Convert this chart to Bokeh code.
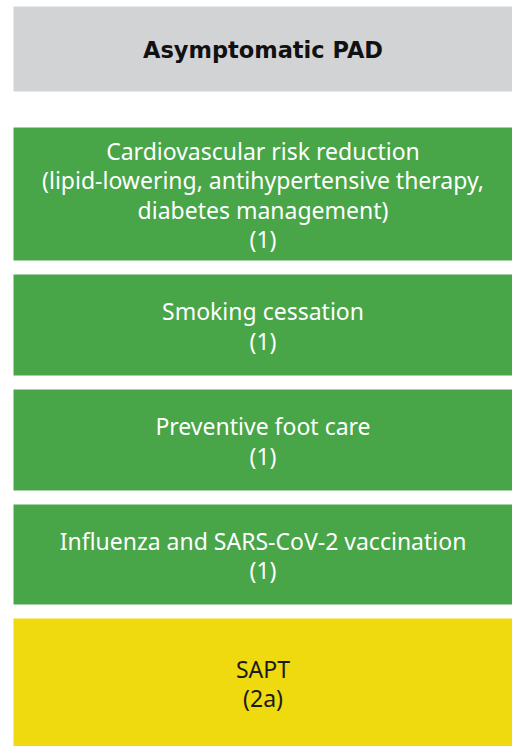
from bokeh.plotting import figure
from bokeh.models import ColumnDataSource, Range1d
from bokeh.core.properties import value
from bokeh.embed import file_html
from bokeh.resources import INLINE

# ---- content ----
header = "Asymptomatic PAD"
box_labels = [
    ["Cardiovascular risk reduction",
     "(lipid-lowering, antihypertensive therapy,",
     "diabetes management)",
     "(1)"],
    ["Smoking cessation", "(1)"],
    ["Preventive foot care", "(1)"],
    ["Influenza and SARS-CoV-2 vaccination", "(1)"],
    ["SAPT", "(2a)"],
]
box_classes = ["1", "1", "1", "1", "2a"]

# ---- layout (pixel coordinates of the page) ----
W, H = 512, 746
X0, Y0 = 0, 0
box_left, box_right = 13, 520
header_top, header_bottom = 6, 91
box_tops = [127, 274, 389, 504, 618]
box_bottoms = [260, 375, 490, 604, 760]
line_step = 29.3

class_fill = {"1": "#48a548", "2a": "#efd90f"}
class_text = {"1": "#ffffff", "2a": "#1a1a1a"}

p = figure(width=W, height=H, output_backend="svg", toolbar_location=None,
           x_range=Range1d(X0, X0 + W), y_range=Range1d(Y0 + H, Y0),
           min_border=0, outline_line_color=None)
p.axis.visible = False
p.grid.visible = False
p.background_fill_color = "white"
p.border_fill_color = "white"

# header
p.quad(left=[box_left], right=[box_right], top=[header_top], bottom=[header_bottom],
       fill_color="#d2d3d5", line_color=None)
p.text(x=[(box_left + 512) / 2], y=[(header_top + header_bottom) / 2 + 1], text=[header],
       text_font=value("DejaVu Sans"), text_font_style="bold", text_font_size="22.5px",
       text_align="center", text_baseline="middle", text_color="#111111")

# boxes
bsrc = ColumnDataSource(dict(
    left=[box_left] * len(box_tops), right=[box_right] * len(box_tops),
    top=box_tops, bottom=box_bottoms,
    fill=[class_fill[c] for c in box_classes]))
p.quad(left="left", right="right", top="top", bottom="bottom", fill_color="fill",
       line_color=None, source=bsrc)

xs, ys, ts, cs = [], [], [], []
for i, lines in enumerate(box_labels):
    top = box_tops[i]
    bot = min(box_bottoms[i], 746)
    mid = (top + bot) / 2
    n = len(lines)
    for j, t in enumerate(lines):
        xs.append((box_left + 512) / 2)
        ys.append(mid + (j - (n - 1) / 2) * line_step + 1)
        ts.append(t)
        cs.append(class_text[box_classes[i]])
tsrc = ColumnDataSource(dict(x=xs, y=ys, text=ts, color=cs))
p.text(x="x", y="y", text="text", text_color="color", source=tsrc,
       text_font=value("Noto Sans"), text_font_size="23px",
       text_align="center", text_baseline="middle")

open("out.html", "w").write(file_html(p, INLINE))
